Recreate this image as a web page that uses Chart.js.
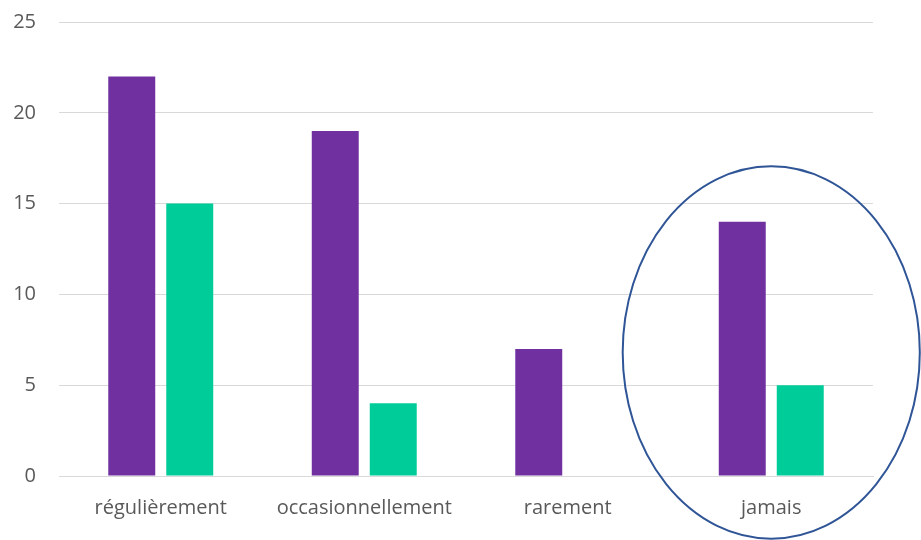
<!DOCTYPE html>
<html><head><meta charset="utf-8">
<script src="https://cdn.jsdelivr.net/npm/chart.js@4/dist/chart.umd.min.js"></script>
<style>html,body{margin:0;padding:0;background:#fff}#wrap{width:921px;height:540px}</style>
</head><body><div id="wrap"><canvas id="c" width="921" height="540"></canvas></div>
<script>
const categories = ['régulièrement', 'occasionnellement', 'rarement', 'jamais'];
const seriesPurple = [22, 19, 7, 14];
const seriesGreen = [15, 4, 0, 5];
const yTicks = [0, 5, 10, 15, 20, 25];
// highlight ellipse annotation around the "jamais" group, in data units
const highlightCategory = 'jamais';
const highlightCenterValue = 6.8;
const highlightRadiusCategories = 0.73;
const highlightRadiusValue = 10.25;

const ellipsePlugin = {
  id: 'ellipse',
  afterDatasetsDraw(chart) {
    const x = chart.scales.x, y = chart.scales.y;
    const idx = categories.indexOf(highlightCategory);
    const cx = x.getPixelForValue(idx);
    const catW = x.getPixelForValue(1) - x.getPixelForValue(0);
    const cy = y.getPixelForValue(highlightCenterValue);
    const ry = Math.abs(y.getPixelForValue(highlightCenterValue + highlightRadiusValue) - cy);
    const ctx = chart.ctx;
    ctx.save();
    ctx.beginPath();
    ctx.ellipse(cx, cy, catW * highlightRadiusCategories, ry, 0, 0, Math.PI * 2);
    ctx.strokeStyle = '#2F5597';
    ctx.lineWidth = 2;
    ctx.stroke();
    ctx.restore();
  }
};

const font = { family: "'Open Sans'", size: 20 };

new Chart(document.getElementById('c'), {
  type: 'bar',
  data: {
    labels: categories,
    datasets: [
      { data: seriesPurple, backgroundColor: '#7030A0', barPercentage: 0.81, categoryPercentage: 0.57 },
      { data: seriesGreen, backgroundColor: '#00CC99', barPercentage: 0.81, categoryPercentage: 0.57 }
    ]
  },
  options: {
    responsive: false,
    animation: false,
    layout: { padding: { top: 22, right: 48, left: 0, bottom: 0 } },
    plugins: { legend: { display: false }, tooltip: { enabled: false } },
    scales: {
      x: {
        grid: { display: false, drawTicks: false },
        border: { display: true, color: '#d9d9d9', width: 1 },
        ticks: { color: '#595959', font: font, padding: 20 },
        afterFit(s) { s.height = 64; }
      },
      y: {
        min: 0, max: 25,
        afterBuildTicks(s) { s.ticks = yTicks.map(v => ({ value: v })); },
        grid: { color: '#d9d9d9', lineWidth: 1, drawTicks: false },
        border: { display: false },
        ticks: { color: '#595959', font: font, padding: 23 },
        afterFit(s) { s.width = 59; s.paddingTop = 0; }
      }
    }
  },
  plugins: [ellipsePlugin]
});
</script></body></html>
